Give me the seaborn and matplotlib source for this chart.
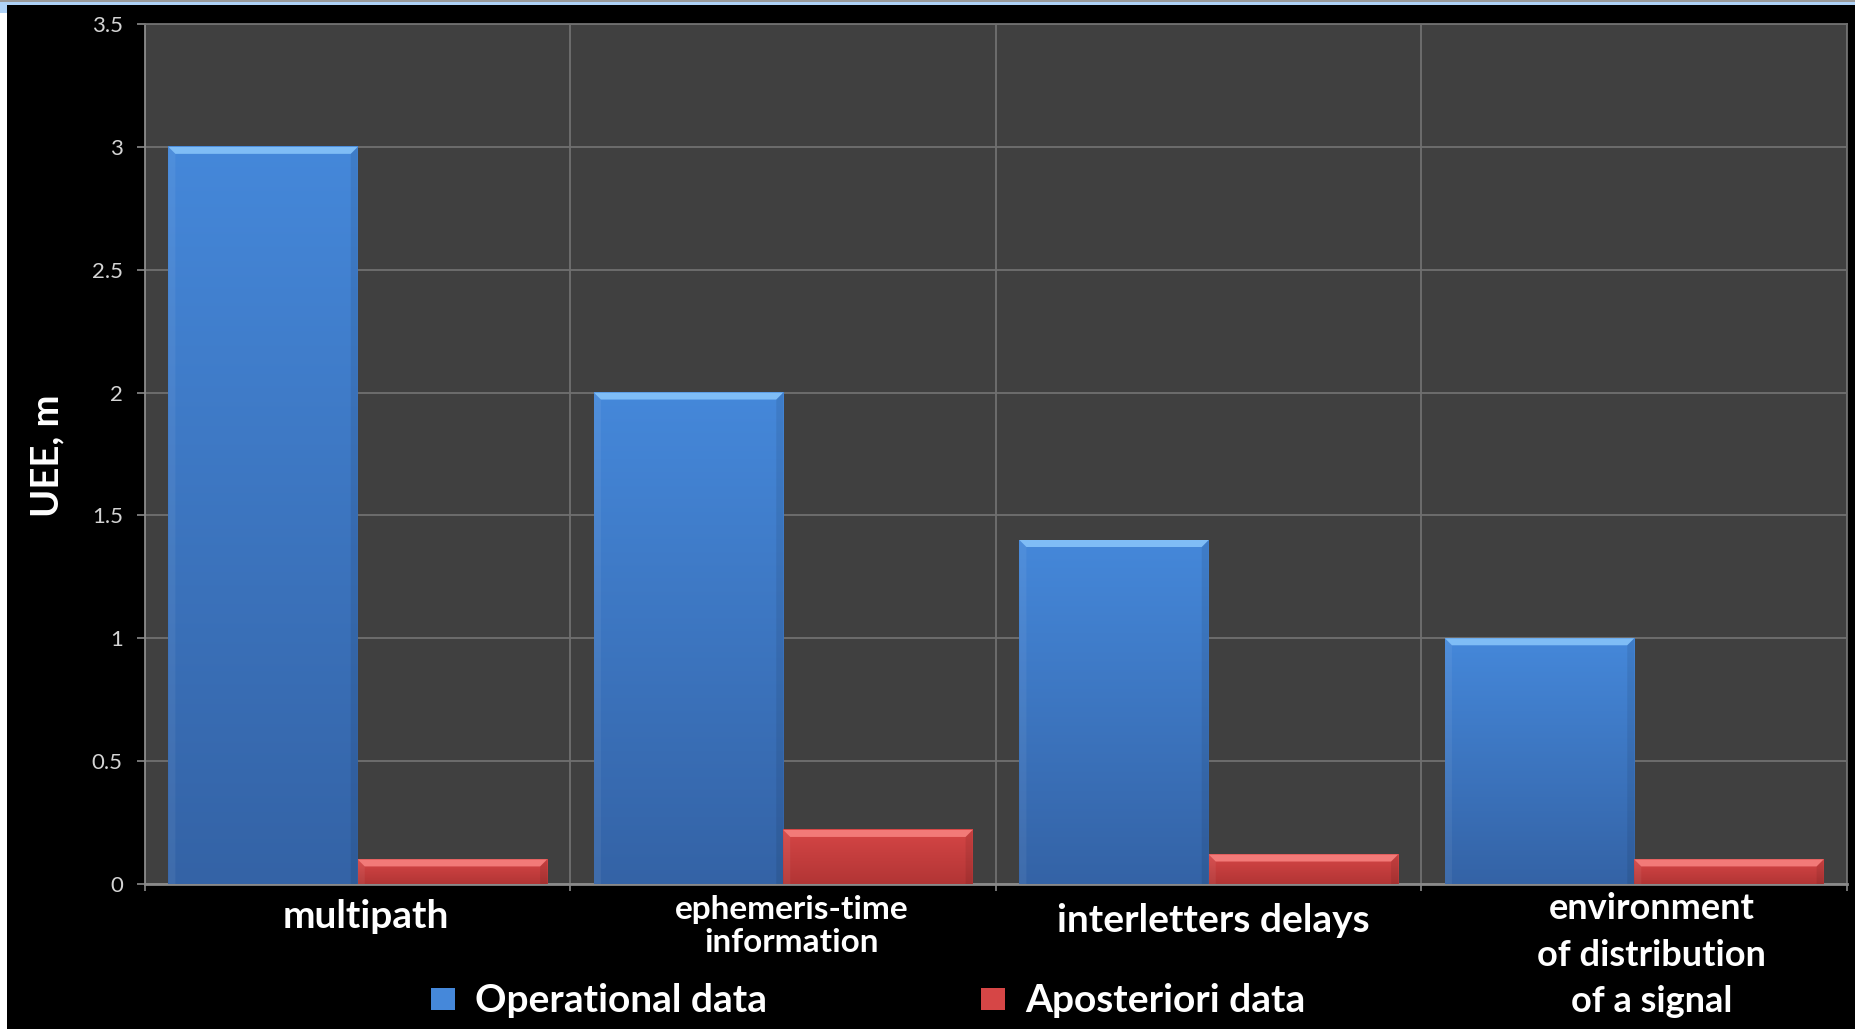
import numpy as np
import pandas as pd
import matplotlib
matplotlib.use("Agg")
import matplotlib.pyplot as plt
import matplotlib.transforms as mtransforms
from matplotlib.colors import LinearSegmentedColormap
from matplotlib.patches import Rectangle, Polygon
import seaborn as sns

# ---- data -------------------------------------------------------------
categories = [
    "multipath",
    "ephemeris-time\ninformation",
    "interletters delays",
    "environment\nof distribution\nof a signal",
]
series_names = ["Operational data", "Aposteriori data"]
operational = [3.0, 2.0, 1.4, 1.0]
aposteriori = [0.10, 0.22, 0.12, 0.10]
y_ticks = [0, 0.5, 1, 1.5, 2, 2.5, 3, 3.5]
y_tick_labels = ["0", "0.5", "1", "1.5", "2", "2.5", "3", "3.5"]
y_label = "UEE, m"

# ---- layout / style ---------------------------------------------------
label_dx = [0.02, 0.02, 0.01, 0.04]          # horizontal nudge of category labels
label_y_px = [917, 926, 921, 955]             # vertical centre of category labels (px)
label_size = [28, 24, 28, 26]
label_linespacing = [1.0, 1.2, 1.0, 1.49]
colors = {"Operational data": ("#3463a6", "#4588da", "#7fbdf6"),
          "Aposteriori data": ("#b23535", "#d64646", "#f27a78")}

df = pd.DataFrame({
    "category": categories * 2,
    "series": [series_names[0]] * len(categories) + [series_names[1]] * len(categories),
    "value": operational + aposteriori,
})

sns.set_theme(style="dark")
plt.rcParams["font.family"] = ["Lato", "DejaVu Sans"]

W, H = 1856, 1029
fig = plt.figure(figsize=(W / 100, H / 100), dpi=100, facecolor="black")
ax = fig.add_axes([145 / W, 1 - 884 / H, (1847 - 145) / W, (884 - 24) / H])
ax.set_facecolor("#404040")

palette = {k: v[1] for k, v in colors.items()}
sns.barplot(data=df, x="category", y="value", hue="series", hue_order=series_names,
            order=categories, palette=palette, width=0.89, gap=0, saturation=1,
            legend=False, ax=ax, zorder=3, linewidth=0)

ax.set_xlim(-0.5, len(categories) - 0.5)
ax.set_ylim(0, 3.5)

# pixel -> data conversions for the bevel strips
ax_w_px = (1847 - 145)
ax_h_px = (884 - 24)
dx_px = (len(categories)) / ax_w_px
dy_px = 3.5 / ax_h_px

# gradient fill + top bevel for every bar
grad = np.linspace(0, 1, 256)[:, None]
for name, cont in zip(series_names, ax.containers):
    bottom_c, top_c, bevel_c = colors[name]
    cmap = LinearSegmentedColormap.from_list(name, [bottom_c, top_c])
    for bar in cont:
        x0, w, h = bar.get_x(), bar.get_width(), bar.get_height()
        bar.set_facecolor("none")
        ax.imshow(grad, extent=(x0, x0 + w, 0, h), origin="lower", cmap=cmap,
                  aspect="auto", zorder=3, interpolation="bicubic")
        bh = 7 * dy_px
        d = 7 * dx_px
        ax.add_patch(Polygon([(x0, h), (x0 + w, h), (x0 + w - d, h - bh), (x0 + d, h - bh)],
                             closed=True, facecolor=bevel_c, edgecolor="none", zorder=4))
        # faint side bevels
        ax.add_patch(Polygon([(x0, h), (x0 + d, h - bh), (x0 + d, 0), (x0, 0)],
                             closed=True, facecolor="white", alpha=0.06, edgecolor="none", zorder=4))
        ax.add_patch(Polygon([(x0 + w, h), (x0 + w - d, h - bh), (x0 + w - d, 0), (x0 + w, 0)],
                             closed=True, facecolor="black", alpha=0.08, edgecolor="none", zorder=4))

ax.set_xlim(-0.5, len(categories) - 0.5)
ax.set_ylim(0, 3.5)

# axes, ticks, grid
boundaries = [i - 0.5 for i in range(len(categories) + 1)]
ax.set_xticks(boundaries, labels=[""] * len(boundaries))
ax.set_yticks(y_ticks, labels=y_tick_labels)
ax.set_axisbelow(True)
ax.grid(True, color="#707070", linewidth=1.3)
ax.tick_params(axis="y", which="major", left=True, length=6, width=1.2, color="#8a8a8a",
               labelcolor="#d4d4d4", labelsize=16, pad=10)
ax.tick_params(axis="x", which="major", bottom=True, length=5, width=1.2, color="#8a8a8a")
for side, sp in ax.spines.items():
    sp.set_visible(True)
    sp.set_color("#707070")
    sp.set_linewidth(1.3)
ax.spines["bottom"].set_color("#8a8a8a")
ax.spines["bottom"].set_linewidth(2.0)
ax.spines["left"].set_color("#8a8a8a")
ax.set_xlabel("")
ax.set_ylabel("")

# y-axis title
fig.text(47 / W, 1 - 456 / H, y_label, rotation=90, ha="center", va="center",
         color="white", fontsize=27.5, fontweight="bold")

# category labels
trans = mtransforms.blended_transform_factory(ax.transData, fig.transFigure)
for i, cat in enumerate(categories):
    ax.text(i + label_dx[i], 1 - label_y_px[i] / H, cat, transform=trans,
            ha="center", va="center", multialignment="center", color="white",
            fontsize=label_size[i], fontweight="bold", linespacing=label_linespacing[i],
            clip_on=False)

# legend
handles = [Rectangle((0, 0), 1, 1, facecolor=colors[n][1], edgecolor="none") for n in series_names]
fig.legend(handles, series_names, loc="center", bbox_to_anchor=(868 / W, 1 - 1001 / H),
           ncol=2, frameon=False, labelcolor="white",
           prop={"size": 28, "weight": "bold", "family": ["Lato", "DejaVu Sans"]},
           handlelength=0.62, handleheight=0.5, handletextpad=0.52, columnspacing=5.5)

# window edge decoration
fig.patches.append(Rectangle((0, 1 - 2 / H), 1, 2 / H, transform=fig.transFigure,
                             facecolor="#9a9a9a", edgecolor="none", zorder=10))
fig.patches.append(Rectangle((0, 1 - 5 / H), 1, 3 / H, transform=fig.transFigure,
                             facecolor="#aed2f7", edgecolor="none", zorder=10))
fig.patches.append(Rectangle((0, 0), 7 / W, 1 - 13 / H, transform=fig.transFigure,
                             facecolor="white", edgecolor="none", zorder=10))
fig.patches.append(Rectangle((0, 1 - 13 / H), 7 / W, 11 / H, transform=fig.transFigure,
                             facecolor="#aed2f7", edgecolor="none", zorder=10))

fig.savefig("out.png", dpi=100, facecolor="black")
